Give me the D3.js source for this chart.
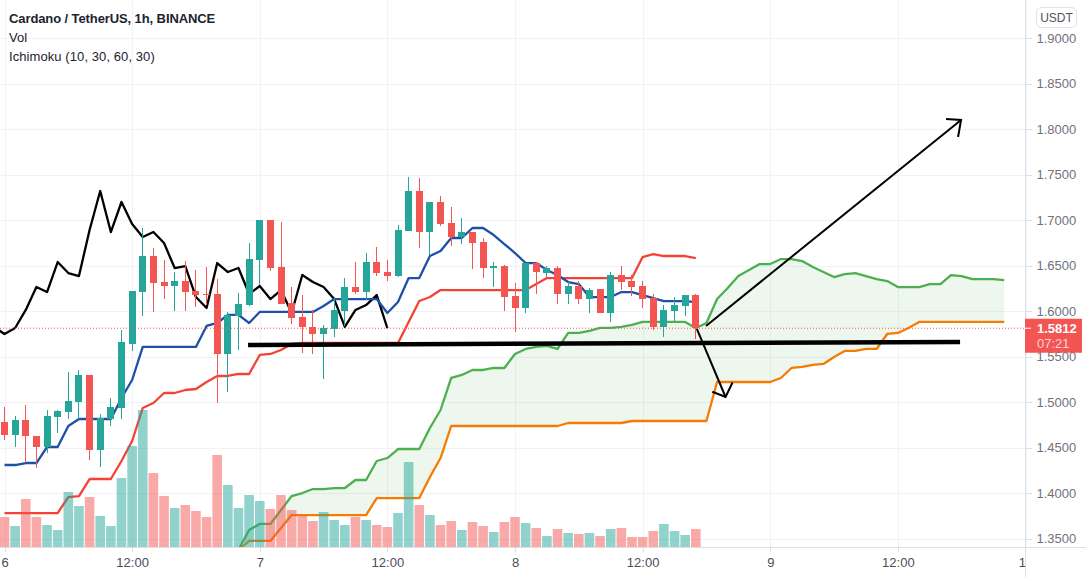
<!DOCTYPE html>
<html>
<head>
<meta charset="utf-8">
<script src="https://d3js.org/d3.v7.min.js"></script>
<style>
  html, body { margin: 0; padding: 0; background: #fff; overflow: hidden; }
  svg { display: block; font-family: "Liberation Sans", Arial, sans-serif; }
  .grid line { stroke: #f0f2f6; stroke-width: 1; shape-rendering: crispEdges; }
  .grid path, .asse path { display: none; }
  .asse line { stroke: #dedfe3; shape-rendering: crispEdges; }
  .asse text { font-family: "Liberation Sans", Arial, sans-serif; font-size: 13px; fill: #6f727c; }
  .assex text { fill: #4a4d56; }
  .linea { fill: none; stroke-width: 2.3; stroke-linejoin: round; }
  .disegno { fill: none; stroke: #000; stroke-width: 2; stroke-linejoin: miter; }
  .supporto { stroke-width: 4.5; }
  .legenda { font-size: 13px; fill: #1e222d; }
</style>
</head>
<body>
<svg width="1086" height="577"></svg>
<script>
var WIDTH = 1086, HEIGHT = 577;
var PANE_W = 1025, PANE_H = 547;

// ore dalle 00:00 del giorno 6, una candela per ora
var opens = [1.4781,1.4638,1.4803,1.4627,1.4506,1.4836,1.4891,1.5001,1.5298,1.4473,1.4814,1.4935,1.5639,1.6210,1.6606,1.6320,1.6276,1.6331,1.6221,1.6188,1.6188,1.5529,1.5947,1.6067,1.6562,1.7002,1.6485,1.6089,1.5936,1.5826,1.5749,1.5804,1.6002,1.6265,1.6210,1.6540,1.6430,1.6386,1.6881,1.7321,1.6870,1.7200,1.6969,1.6815,1.6870,1.6760,1.6474,1.6496,1.6166,1.6034,1.6529,1.6419,1.6474,1.6188,1.6276,1.6133,1.6243,1.5980,1.6397,1.6331,1.6276,1.6144,1.5826,1.6002,1.6056,1.6177];
var highs = [1.4946,1.4847,1.4968,1.4627,1.4913,1.4913,1.5331,1.5353,1.5298,1.4869,1.5045,1.5793,1.6221,1.6914,1.6694,1.6562,1.6430,1.6551,1.6452,1.6485,1.6353,1.5991,1.6199,1.6749,1.7002,1.7002,1.6980,1.6265,1.6177,1.6013,1.5848,1.6155,1.6364,1.6540,1.6639,1.6705,1.6562,1.6947,1.7475,1.7464,1.7200,1.7266,1.7145,1.7024,1.6870,1.6804,1.6540,1.6507,1.6309,1.6529,1.6540,1.6496,1.6496,1.6320,1.6331,1.6254,1.6243,1.6430,1.6496,1.6397,1.6331,1.6188,1.6067,1.6155,1.6177,1.6188];
var lows = [1.4583,1.4506,1.4330,1.4275,1.4440,1.4660,1.4814,1.4814,1.4363,1.4286,1.4737,1.4814,1.5562,1.5947,1.5991,1.6133,1.6002,1.6002,1.6045,1.6067,1.4990,1.5111,1.5573,1.6056,1.6287,1.6441,1.6078,1.5859,1.5540,1.5529,1.5254,1.5716,1.5837,1.6188,1.6122,1.6386,1.6331,1.6375,1.6881,1.6694,1.6617,1.6936,1.6716,1.6738,1.6463,1.6364,1.6265,1.6002,1.5771,1.5980,1.6188,1.6375,1.6078,1.6078,1.6078,1.5980,1.5980,1.5881,1.6232,1.6166,1.6034,1.5793,1.5716,1.5892,1.5947,1.5694];
var closes = [1.4638,1.4803,1.4627,1.4506,1.4847,1.4902,1.5012,1.5298,1.4473,1.4825,1.4946,1.5661,1.6221,1.6606,1.6309,1.6276,1.6331,1.6210,1.6177,1.6177,1.5529,1.5958,1.6078,1.6573,1.7002,1.6474,1.6078,1.5925,1.5826,1.5749,1.5815,1.6013,1.6265,1.6210,1.6540,1.6419,1.6386,1.6892,1.7321,1.6870,1.7200,1.6958,1.6815,1.6870,1.6749,1.6474,1.6496,1.6155,1.6034,1.6529,1.6430,1.6474,1.6188,1.6276,1.6133,1.6232,1.5980,1.6397,1.6320,1.6265,1.6133,1.5826,1.6013,1.6067,1.6177,1.5812];
var volumes = [600,420,960,600,440,340,1100,820,1000,620,420,1380,2020,2740,1480,1020,780,840,720,600,1840,1240,780,1040,920,760,1040,740,640,520,700,540,440,600,540,440,400,680,1700,840,640,440,520,340,500,420,300,500,600,480,380,220,360,280,260,280,220,360,380,200,200,320,460,320,240,360];

// Ichimoku: conversion e base partono dalla candela 0
var conversionLine = [1.4308,1.4308,1.4330,1.4330,1.4506,1.4506,1.4737,1.4814,1.4814,1.4814,1.4814,1.5045,1.5243,1.5606,1.5606,1.5606,1.5606,1.5606,1.5606,1.5837,1.5870,1.5958,1.5958,1.5870,1.5991,1.5991,1.5991,1.5991,1.5991,1.5991,1.6056,1.6133,1.6133,1.6133,1.6133,1.6133,1.5980,1.6100,1.6364,1.6364,1.6606,1.6661,1.6804,1.6804,1.6914,1.6914,1.6837,1.6738,1.6639,1.6529,1.6529,1.6452,1.6397,1.6320,1.6298,1.6155,1.6155,1.6155,1.6210,1.6210,1.6177,1.6144,1.6111,1.6111,1.6111,1.6100];
var baseLine = [1.3780,1.3780,1.3780,1.3780,1.3780,1.3780,1.3956,1.3967,1.4154,1.4154,1.4154,1.4352,1.4572,1.4935,1.4990,1.5100,1.5100,1.5133,1.5144,1.5221,1.5287,1.5287,1.5309,1.5309,1.5518,1.5529,1.5573,1.5639,1.5650,1.5650,1.5650,1.5650,1.5650,1.5650,1.5650,1.5650,1.5650,1.5650,1.5881,1.6111,1.6155,1.6232,1.6232,1.6232,1.6232,1.6232,1.6232,1.6232,1.6232,1.6232,1.6298,1.6364,1.6364,1.6364,1.6364,1.6364,1.6364,1.6364,1.6364,1.6364,1.6595,1.6628,1.6606,1.6606,1.6606,1.6584];

// lagging span: parte dalla candela -1
var laggingStart = -1;
var laggingSpan = [1.5826,1.5749,1.5815,1.6013,1.6265,1.6210,1.6540,1.6419,1.6386,1.6892,1.7321,1.6870,1.7200,1.6958,1.6815,1.6870,1.6749,1.6474,1.6496,1.6155,1.6034,1.6529,1.6430,1.6474,1.6188,1.6276,1.6133,1.6232,1.5980,1.6397,1.6320,1.6265,1.6133,1.5826,1.6013,1.6067,1.6177,1.5812];

// nuvola: parte dalla candela 22
var cloudStart = 22;
var leadingA = [1.3374,1.3594,1.3660,1.3660,1.3813,1.3967,1.4000,1.4044,1.4044,1.4055,1.4055,1.4143,1.4143,1.4352,1.4385,1.4484,1.4484,1.4484,1.4715,1.4913,1.5265,1.5298,1.5353,1.5353,1.5375,1.5375,1.5529,1.5584,1.5606,1.5617,1.5584,1.5760,1.5760,1.5782,1.5815,1.5815,1.5826,1.5848,1.5881,1.5881,1.5881,1.5881,1.5881,1.5815,1.5870,1.6133,1.6254,1.6386,1.6452,1.6518,1.6518,1.6573,1.6573,1.6551,1.6485,1.6430,1.6375,1.6408,1.6419,1.6386,1.6353,1.6331,1.6265,1.6265,1.6265,1.6298,1.6298,1.6397,1.6386,1.6353,1.6353,1.6353,1.6342];
var leadingB = [1.3374,1.3473,1.3473,1.3473,1.3616,1.3758,1.3758,1.3758,1.3758,1.3758,1.3758,1.3758,1.3758,1.3945,1.3945,1.3945,1.3945,1.3945,1.4176,1.4385,1.4737,1.4737,1.4737,1.4737,1.4737,1.4737,1.4737,1.4737,1.4737,1.4737,1.4737,1.4770,1.4770,1.4770,1.4770,1.4770,1.4770,1.4792,1.4792,1.4792,1.4792,1.4792,1.4792,1.4792,1.4792,1.5221,1.5221,1.5221,1.5221,1.5221,1.5221,1.5265,1.5375,1.5386,1.5408,1.5419,1.5496,1.5562,1.5562,1.5584,1.5584,1.5749,1.5760,1.5815,1.5881,1.5881,1.5881,1.5881,1.5881,1.5881,1.5881,1.5881,1.5881];

var priceTicks = [1.35,1.40,1.45,1.50,1.55,1.60,1.65,1.70,1.75,1.80,1.85,1.90];
var hourTicks = [0,12,24,36,48,60,72,84,96];
var hourLabels = ["6","12:00","7","12:00","8","12:00","9","12:00","10"];
var lastPrice = 1.5812;
var countdown = "07:21";

// disegni a mano: ora e prezzo di ogni vertice
var supportHours = [22.9, 89.85];
var supportPrices = [1.5628, 1.5661];
var downHours = [65.1, 67.8];
var downPrices = [1.5804, 1.5056];
var downHeadHours = [66.55, 67.8, 68.45];
var downHeadPrices = [1.5114, 1.5056, 1.5215];
var upHours = [65.96, 89.94];
var upPrices = [1.5837, 1.8102];
var upHeadHours = [88.53, 89.94, 89.66];
var upHeadPrices = [1.8113, 1.8102, 1.7915];

var RED = "#f35552", TEAL = "#26a69a";

var xScale = d3.scaleLinear().domain([0, 96]).range([4.5, 1025.5]);
var yScale = d3.scaleLinear().domain([1.35, 1.90]).range([538.5, 38.3]);
var volScale = d3.scaleLinear().domain([0, 2740]).range([547, 410]);

var svg = d3.select("svg");

var defs = svg.append("defs");
defs.append("clipPath").attr("id", "pane").append("rect")
    .attr("width", PANE_W).attr("height", PANE_H);
defs.append("clipPath").attr("id", "fondo").append("rect")
    .attr("y", PANE_H).attr("width", PANE_W).attr("height", HEIGHT - PANE_H);

//griglia
svg.append("g").attr("class", "grid")
   .call(d3.axisLeft(yScale).tickValues(priceTicks).tickSize(-PANE_W).tickFormat(""));
svg.append("g").attr("class", "grid").attr("transform", "translate(0," + PANE_H + ")")
   .call(d3.axisBottom(xScale).tickValues(hourTicks).tickSize(-PANE_H).tickFormat(""));

var pane = svg.append("g").attr("clip-path", "url(#pane)");

function serie(values, start){
  return values.map(function(v, i){ return {i: i + start, v: v}; });
}

//nuvola
var cloud = leadingA.map(function(v, i){ return {i: i + cloudStart, a: v, b: leadingB[i]}; });
pane.append("path").datum(cloud)
    .attr("fill", "#4caf50").attr("fill-opacity", 0.1)
    .attr("d", d3.area()
      .x(function(d){ return xScale(d.i); })
      .y0(function(d){ return yScale(d.b); })
      .y1(function(d){ return yScale(d.a); }));

var lineGen = d3.line()
    .x(function(d){ return xScale(d.i); })
    .y(function(d){ return yScale(d.v); });

//linee ichimoku
var linee = [
  {values: leadingB, start: cloudStart, color: "#f57c00"},
  {values: leadingA, start: cloudStart, color: "#4caf50"},
  {values: laggingSpan, start: laggingStart, color: "#000000"},
  {values: baseLine, start: 0, color: "#f44336"},
  {values: conversionLine, start: 0, color: "#1d50a6"}
];
pane.selectAll(".linea").data(linee).enter().append("path")
    .attr("class", "linea")
    .attr("stroke", function(d){ return d.color; })
    .attr("d", function(d){ return lineGen(serie(d.values, d.start)); });

//volumi
pane.selectAll(".vol").data(volumes).enter().append("rect")
    .attr("class", "vol")
    .attr("x", function(d, i){ return xScale(i) - 4.8; })
    .attr("width", 9.6)
    .attr("y", function(d){ return volScale(d); })
    .attr("height", function(d){ return PANE_H - volScale(d); })
    .attr("fill", function(d, i){ return closes[i] >= opens[i] ? TEAL : RED; })
    .attr("fill-opacity", 0.5);

//candele
var candle = pane.selectAll(".candle").data(d3.range(opens.length)).enter().append("g")
    .attr("class", "candle")
    .attr("shape-rendering", "crispEdges")
    .attr("fill", function(i){ return closes[i] >= opens[i] ? TEAL : RED; });
candle.append("rect")
    .attr("x", function(i){ return Math.round(xScale(i) - 0.5); })
    .attr("width", 1)
    .attr("y", function(i){ return yScale(highs[i]); })
    .attr("height", function(i){ return yScale(lows[i]) - yScale(highs[i]); });
candle.append("rect")
    .attr("x", function(i){ return Math.round(xScale(i) - 3.5); })
    .attr("width", 7)
    .attr("y", function(i){ return yScale(Math.max(opens[i], closes[i])); })
    .attr("height", function(i){ return Math.max(1, Math.abs(yScale(opens[i]) - yScale(closes[i]))); });

//linea prezzo corrente
pane.append("line")
    .attr("x1", 0).attr("x2", PANE_W)
    .attr("y1", yScale(lastPrice)).attr("y2", yScale(lastPrice))
    .attr("stroke", RED).attr("stroke-width", 1).attr("stroke-dasharray", "1,2");

//disegni
function poly(hours, prices){
  return d3.line()(hours.map(function(h, i){ return [xScale(h), yScale(prices[i])]; }));
}
svg.append("path").attr("class", "disegno supporto").attr("d", poly(supportHours, supportPrices));
svg.append("path").attr("class", "disegno").attr("d", poly(downHours, downPrices));
svg.append("path").attr("class", "disegno").attr("d", poly(downHeadHours, downHeadPrices));
svg.append("path").attr("class", "disegno").attr("d", poly(upHours, upPrices));
svg.append("path").attr("class", "disegno").attr("d", poly(upHeadHours, upHeadPrices));

//assi
svg.append("line").attr("x1", 0).attr("x2", WIDTH).attr("y1", PANE_H + 0.5).attr("y2", PANE_H + 0.5)
   .attr("stroke", "#dedfe3");
svg.append("line").attr("x1", PANE_W + 0.5).attr("x2", PANE_W + 0.5).attr("y1", 0).attr("y2", HEIGHT)
   .attr("stroke", "#dedfe3");

svg.append("g").attr("class", "asse").attr("transform", "translate(" + (PANE_W + 0.5) + ",0)")
   .call(d3.axisRight(yScale).tickValues(priceTicks).tickSize(6).tickPadding(5).tickFormat(d3.format(".4f")));

svg.append("g").attr("class", "asse assex").attr("clip-path", "url(#fondo)")
   .append("g").attr("transform", "translate(0," + PANE_H + ")")
   .call(d3.axisBottom(xScale).tickValues(hourTicks).tickSize(5).tickPadding(6)
     .tickFormat(function(d, i){ return hourLabels[i]; }));

//etichetta prezzo
var lastY = yScale(lastPrice);
svg.append("rect")
   .attr("x", PANE_W).attr("y", lastY - 9.5).attr("width", 57).attr("height", 34)
   .attr("fill", RED);
svg.append("line")
   .attr("x1", PANE_W).attr("x2", PANE_W + 6).attr("y1", lastY).attr("y2", lastY)
   .attr("stroke", "#fff");
svg.append("text")
   .attr("x", 1037).attr("y", lastY + 5)
   .attr("font-size", 13).attr("font-weight", "bold").attr("fill", "#fff")
   .text(d3.format(".4f")(lastPrice));
svg.append("text")
   .attr("x", 1037).attr("y", lastY + 20)
   .attr("font-size", 13).attr("fill", "#fff").attr("fill-opacity", 0.75)
   .text(countdown);

//bottone valuta
svg.append("rect")
   .attr("x", 1036.5).attr("y", 7.5).attr("width", 40).attr("height", 20).attr("rx", 5)
   .attr("fill", "#fff").attr("stroke", "#e0e3eb");
svg.append("text")
   .attr("x", 1056.5).attr("y", 22)
   .attr("text-anchor", "middle").attr("font-size", 12).attr("fill", "#50535e")
   .text("USDT");

//legenda
svg.append("text").attr("class", "legenda").attr("x", 9).attr("y", 23)
   .attr("font-weight", "bold").attr("letter-spacing", -0.1).text("Cardano / TetherUS, 1h, BINANCE");
svg.append("text").attr("class", "legenda").attr("x", 9).attr("y", 42).text("Vol");
svg.append("text").attr("class", "legenda").attr("x", 9).attr("y", 61)
   .attr("letter-spacing", 0.08).text("Ichimoku (10, 30, 60, 30)");
</script>
</body>
</html>
